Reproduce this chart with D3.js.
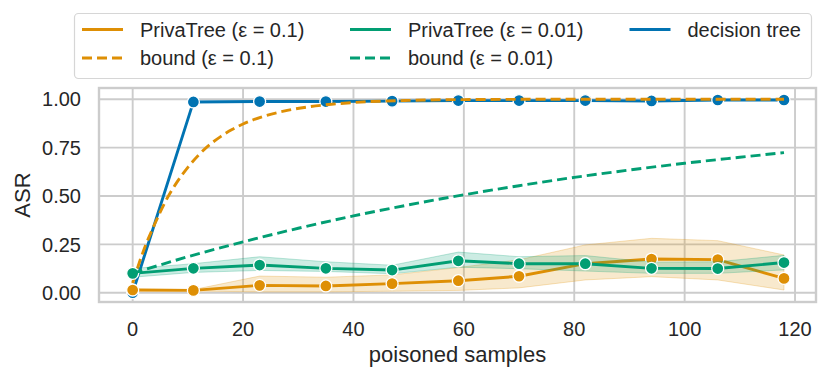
<!DOCTYPE html>
<html>
<head>
<meta charset="utf-8">
<script src="https://cdn.jsdelivr.net/npm/d3@7"></script>
<style>
  body { margin: 0; background: #fff; }
  svg { display: block; font-family: "Liberation Sans", Arial, sans-serif; }
</style>
</head>
<body>
<svg width="830" height="381"></svg>
<script>
// measured points (poisoned samples on x)
const samples = [0, 11, 23, 35, 47, 59, 70, 82, 94, 106, 118];
const treeAsr = [0.0, 0.986, 0.988, 0.988, 0.990, 0.993, 0.993, 0.993, 0.991, 0.996, 0.996];
const privaHiAsr = [0.014, 0.012, 0.038, 0.035, 0.047, 0.062, 0.085, 0.150, 0.174, 0.171, 0.074];
const privaHiLow = [0.010, 0.009, 0.004, 0.004, 0.008, 0.012, 0.025, 0.066, 0.083, 0.066, 0.014];
const privaHiHigh = [0.019, 0.016, 0.086, 0.080, 0.092, 0.130, 0.170, 0.247, 0.281, 0.269, 0.195];
const privaLoAsr = [0.100, 0.126, 0.143, 0.126, 0.117, 0.165, 0.150, 0.150, 0.126, 0.125, 0.156];
const privaLoLow = [0.080, 0.105, 0.115, 0.110, 0.098, 0.132, 0.124, 0.112, 0.100, 0.100, 0.118];
const privaLoHigh = [0.125, 0.150, 0.186, 0.160, 0.142, 0.210, 0.186, 0.192, 0.158, 0.160, 0.193];

// bound curves
const boundHiX = [0, 2, 4, 6, 8, 10, 12, 14, 16, 18, 20, 24, 28, 32, 36, 40, 50, 60, 80, 100, 118];
const boundHiY = [0.050, 0.220, 0.355, 0.475, 0.570, 0.648, 0.713, 0.766, 0.808, 0.843, 0.872,
  0.914, 0.942, 0.961, 0.974, 0.983, 0.994, 0.998, 1.0, 1.0, 1.0];
const boundLoX = [0, 10, 20, 30, 40, 50, 60, 70, 80, 90, 100, 110, 118];
const boundLoY = [0.100, 0.186, 0.263, 0.333, 0.397, 0.454, 0.506, 0.553, 0.596, 0.634, 0.669, 0.700, 0.724];

const xTicks = [0, 20, 40, 60, 80, 100, 120];
const yTicks = [0, 0.25, 0.5, 0.75, 1.0];

const blue = '#0173b2', orange = '#de8f05', green = '#029e73';
const gridColor = '#cccccc';
const dashes = '10,5';

const plotLeft = 99, plotRight = 816, plotTop = 88, plotBottom = 302;

const svg = d3.select('svg');

const x = d3.scaleLinear().domain([-6.1, 123.8]).range([plotLeft, plotRight]);
const y = d3.scaleLinear().domain([-0.048, 1.058]).range([plotBottom, plotTop]);

// grid
svg.append('g')
  .selectAll('line')
  .data(xTicks)
  .enter().append('line')
  .attr('x1', d => x(d)).attr('x2', d => x(d))
  .attr('y1', plotTop).attr('y2', plotBottom)
  .attr('stroke', gridColor).attr('stroke-width', 1.9);

svg.append('g')
  .selectAll('line')
  .data(yTicks)
  .enter().append('line')
  .attr('x1', plotLeft).attr('x2', plotRight)
  .attr('y1', d => y(d)).attr('y2', d => y(d))
  .attr('stroke', gridColor).attr('stroke-width', 1.9);

svg.append('rect')
  .attr('x', plotLeft).attr('y', plotTop)
  .attr('width', plotRight - plotLeft).attr('height', plotBottom - plotTop)
  .attr('fill', 'none')
  .attr('stroke', gridColor).attr('stroke-width', 2.4);

// tick labels
svg.append('g')
  .selectAll('text')
  .data(xTicks)
  .enter().append('text')
  .attr('x', d => x(d)).attr('y', 335.5)
  .attr('text-anchor', 'middle')
  .attr('font-size', 20).attr('fill', '#262626')
  .text(d => d);

svg.append('g')
  .selectAll('text')
  .data(yTicks)
  .enter().append('text')
  .attr('x', 81).attr('y', d => y(d) + 7.2)
  .attr('text-anchor', 'end')
  .attr('font-size', 20).attr('fill', '#262626')
  .text(d => d3.format('.2f')(d));

svg.append('text')
  .attr('x', (plotLeft + plotRight) / 2).attr('y', 362)
  .attr('text-anchor', 'middle')
  .attr('font-size', 22).attr('fill', '#262626')
  .text('poisoned samples');

svg.append('text')
  .attr('transform', `translate(30, ${(plotTop + plotBottom) / 2}) rotate(-90)`)
  .attr('text-anchor', 'middle')
  .attr('font-size', 22).attr('fill', '#262626')
  .text('ASR');

const line = d3.line().x(d => x(d[0])).y(d => y(d[1]));
const smooth = d3.line().x(d => x(d[0])).y(d => y(d[1])).curve(d3.curveMonotoneX);
const band = d3.area().x(d => x(d[0])).y0(d => y(d[1])).y1(d => y(d[2]));

const plot = svg.append('g');

function series(values, colour, low, high) {
  if (low) {
    plot.append('path')
      .attr('d', band(samples.map((s, i) => [s, low[i], high[i]])))
      .attr('fill', colour).attr('fill-opacity', 0.2)
      .attr('stroke', colour).attr('stroke-opacity', 0.25).attr('stroke-width', 1);
  }
  const pts = samples.map((s, i) => [s, values[i]]);
  plot.append('path')
    .attr('d', line(pts))
    .attr('fill', 'none').attr('stroke', colour).attr('stroke-width', 2.9);
  plot.append('g')
    .selectAll('circle')
    .data(pts)
    .enter().append('circle')
    .attr('cx', d => x(d[0])).attr('cy', d => y(d[1]))
    .attr('r', 6)
    .attr('fill', colour).attr('stroke', '#fff').attr('stroke-width', 1.3);
}

function bound(xs, ys, colour) {
  plot.append('path')
    .attr('d', smooth(xs.map((v, i) => [v, ys[i]])))
    .attr('fill', 'none').attr('stroke', colour).attr('stroke-width', 2.9)
    .attr('stroke-dasharray', dashes);
}

series(treeAsr, blue);
series(privaHiAsr, orange, privaHiLow, privaHiHigh);
bound(boundHiX, boundHiY, orange);
series(privaLoAsr, green, privaLoLow, privaLoHigh);
bound(boundLoX, boundLoY, green);

// legend
const legendItems = [
  { label: 'PrivaTree (ε = 0.1)', colour: orange, dash: null, col: 0, row: 0 },
  { label: 'bound (ε = 0.1)', colour: orange, dash: dashes, col: 0, row: 1 },
  { label: 'PrivaTree (ε = 0.01)', colour: green, dash: null, col: 1, row: 0 },
  { label: 'bound (ε = 0.01)', colour: green, dash: dashes, col: 1, row: 1 },
  { label: 'decision tree', colour: blue, dash: null, col: 2, row: 0 }
];
const colX = [82, 350, 629.5];
const rowY = [29.5, 58];

svg.append('rect')
  .attr('x', 74.5).attr('y', 13.5)
  .attr('width', 737).attr('height', 65)
  .attr('rx', 4)
  .attr('fill', '#fff').attr('stroke', '#d6d6d6').attr('stroke-width', 1.2);

const item = svg.append('g')
  .selectAll('g')
  .data(legendItems)
  .enter().append('g')
  .attr('transform', d => `translate(${colX[d.col]}, ${rowY[d.row]})`);

item.append('line')
  .attr('x1', 0).attr('x2', 41)
  .attr('stroke', d => d.colour).attr('stroke-width', 2.9)
  .attr('stroke-dasharray', d => d.dash);

item.append('text')
  .attr('x', 58).attr('y', 7.2)
  .attr('font-size', 20).attr('fill', '#262626')
  .text(d => d.label);
</script>
</body>
</html>
